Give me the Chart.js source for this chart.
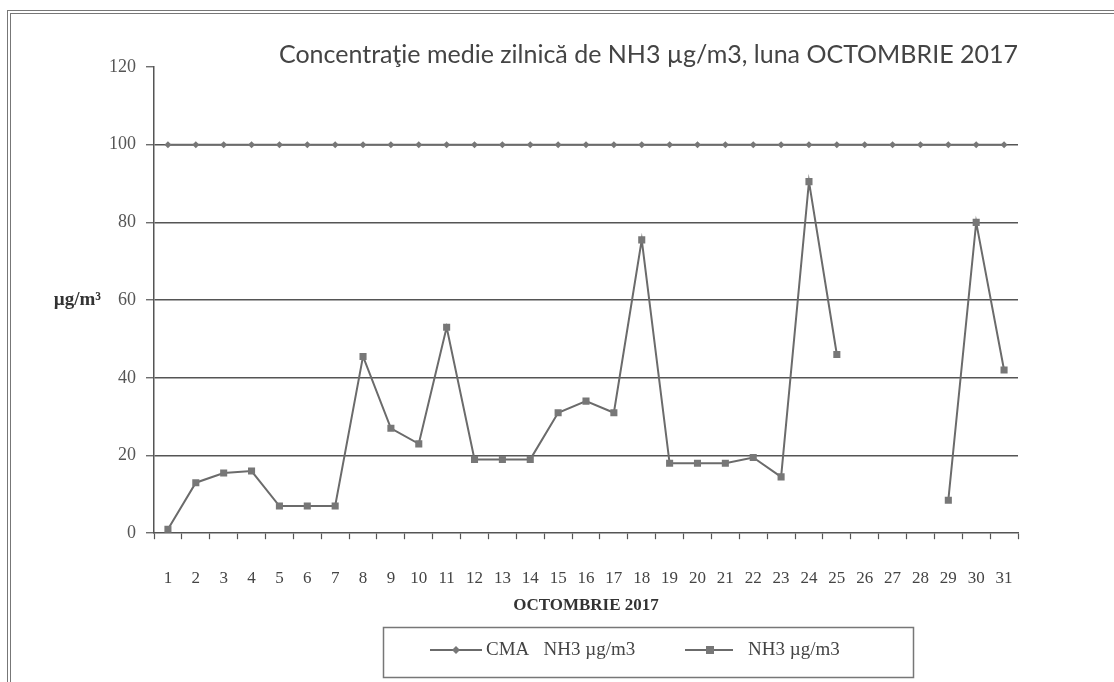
<!DOCTYPE html>
<html>
<head>
<meta charset="utf-8">
<script src="https://cdn.jsdelivr.net/npm/chart.js@4"></script>
<style>
  html, body { margin: 0; padding: 0; background: #fff; overflow: hidden; }
  #wrap { position: relative; width: 1114px; height: 682px; }
  #frame { position: absolute; left: 7px; top: 10px; width: 1200px; height: 800px;
           border: 4px double #777; pointer-events: none; }
</style>
</head>
<body>
<div id="wrap">
  <canvas id="nh3-chart" width="1114" height="682"></canvas>
  <div id="frame"></div>
</div>
<script>
const days = ['1','2','3','4','5','6','7','8','9','10','11','12','13','14','15','16',
  '17','18','19','20','21','22','23','24','25','26','27','28','29','30','31']
const cma = [100,100,100,100,100,100,100,100,100,100,100,100,100,100,100,100,
  100,100,100,100,100,100,100,100,100,100,100,100,100,100,100]
const nh3 = [1,13,15.5,16,7,7,7,45.5,27,23,53,19,19,19,31,34,
  31,75.5,18,18,18,19.5,14.5,90.5,46,null,null,null,8.5,80,42]
const yTicks = [0,20,40,60,80,100,120]

const serif = '"Liberation Serif", "DejaVu Serif", serif'
const lineGray = '#6b6b6b'

// y unit label + framed legend, drawn by hand like the scanned Excel chart
const extras = {
  id: 'extras',
  afterDraw(chart) {
    const c = chart.ctx
    const y = chart.scales.y
    c.save()
    c.fillStyle = '#333'
    c.font = 'bold 19px ' + serif
    c.textAlign = 'right'
    c.textBaseline = 'middle'
    c.fillText('µg/m³', 101, y.getPixelForValue(60))

    // legend box
    c.strokeStyle = '#777'
    c.lineWidth = 1.5
    c.strokeRect(383.5, 627.5, 530, 50)
    const ly = 650
    c.strokeStyle = lineGray
    c.lineWidth = 2
    c.beginPath(); c.moveTo(430, ly); c.lineTo(482, ly); c.stroke()
    c.beginPath(); c.moveTo(685, ly); c.lineTo(733, ly); c.stroke()
    c.fillStyle = '#777'
    c.beginPath()
    c.moveTo(456, ly - 4); c.lineTo(460, ly); c.lineTo(456, ly + 4); c.lineTo(452, ly)
    c.closePath(); c.fill()
    c.fillRect(706, ly - 4, 8, 8)
    c.fillStyle = '#444'
    c.font = '19px ' + serif
    c.textAlign = 'left'
    c.fillText('CMA   NH3 µg/m3', 486, ly)
    c.fillText('NH3 µg/m3', 748, ly)
    c.restore()
  }
}

const config = {
  type: 'line',
  data: {
    labels: days,
    datasets: [
      {
        label: 'CMA   NH3 µg/m3',
        data: cma,
        borderColor: lineGray,
        backgroundColor: '#777',
        borderWidth: 2,
        pointStyle: 'rectRot',
        pointRadius: 3.5,
        pointBorderWidth: 0,
      },
      {
        label: 'NH3 µg/m3',
        data: nh3,
        borderColor: lineGray,
        backgroundColor: '#777',
        borderWidth: 2,
        pointStyle: 'rect',
        pointRadius: 5,
        pointBorderWidth: 0,
        spanGaps: false,
      },
    ]
  },
  options: {
    responsive: false,
    animation: false,
    layout: {
      padding: { left: 99, right: 96, top: 40, bottom: 55 }
    },
    plugins: {
      legend: { display: false },
      tooltip: { enabled: false },
      title: {
        display: true,
        text: 'Concentraţie medie zilnică de NH3 µg/m3, luna OCTOMBRIE 2017',
        align: 'end',
        color: '#444',
        font: { family: 'Lato, "Open Sans", sans-serif', size: 25, weight: 'normal' },
        padding: { top: 0, bottom: -3 }
      }
    },
    scales: {
      x: {
        offset: true,
        grid: {
          offset: true,
          drawOnChartArea: false,
          drawTicks: true,
          tickLength: 6,
          tickColor: '#555',
          tickWidth: 1.2,
        },
        border: { color: '#555', width: 1.5 },
        ticks: {
          autoSkip: false,
          maxRotation: 0,
          padding: 29,
          color: '#444',
          font: { family: serif, size: 17 }
        },
        title: {
          display: true,
          text: 'OCTOMBRIE 2017',
          color: '#333',
          font: { family: serif, size: 17, weight: 'bold' },
          // chart.js counts tick padding twice in the axis height, pull the title back up
          padding: { top: -22, bottom: 11 }
        }
      },
      y: {
        min: 0,
        max: 120,
        afterBuildTicks(scale) {
          scale.ticks = yTicks.map(v => ({ value: v }))
        },
        grid: {
          color: (ctx) => (ctx.tick && (ctx.tick.value === 120 || ctx.tick.value === 0)) ? 'rgba(0,0,0,0)' : '#555',
          lineWidth: 1.5,
          tickLength: 8,
          tickColor: '#555',
          tickWidth: 1.2,
        },
        border: { color: '#555', width: 1.5 },
        ticks: {
          padding: 10,
          color: '#555',
          font: { family: serif, size: 18 }
        }
      }
    }
  },
  plugins: [extras]
}

new Chart(document.getElementById('nh3-chart'), config)
</script>
</body>
</html>
